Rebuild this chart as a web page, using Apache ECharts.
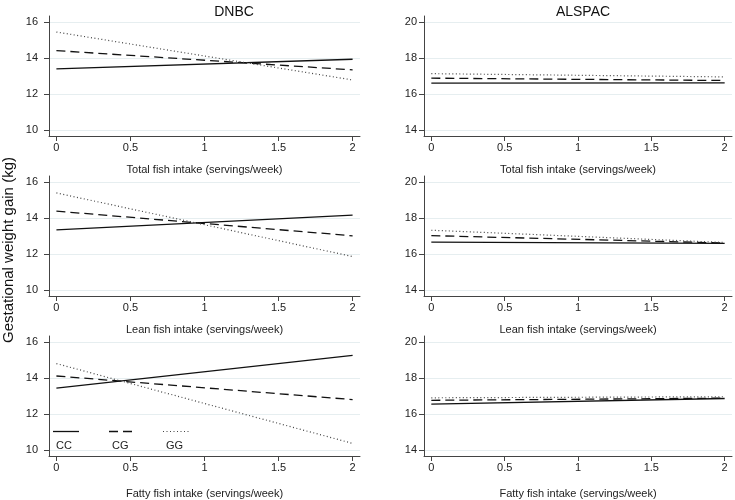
<!DOCTYPE html>
<html>
<head>
<meta charset="utf-8">
<script src="https://cdn.jsdelivr.net/npm/echarts@6/dist/echarts.min.js"></script>
<style>html,body{margin:0;padding:0;background:#fff}#c{width:735px;height:500px}</style>
</head>
<body>
<div id="c"></div>
<script>
// ---- data ----
const xValues = [0, 2];
const genotypes = ['CC', 'CG', 'GG'];
const cohorts = ['DNBC', 'ALSPAC'];
const exposures = ['Total fish intake (servings/week)', 'Lean fish intake (servings/week)', 'Fatty fish intake (servings/week)'];
const xTicks = [0, 0.5, 1, 1.5, 2];
const yTicksDNBC = [10, 12, 14, 16];
const yTicksALSPAC = [14, 16, 18, 20];
// rows: CC, CG, GG ; values at x = 0 and x = 2
const dnbcTotal = [[13.39, 13.93], [14.41, 13.34], [15.44, 12.78]];
const dnbcLean = [[13.34, 14.16], [14.38, 13.01], [15.39, 11.86]];
const dnbcFatty = [[13.44, 15.26], [14.11, 12.80], [14.80, 10.37]];
const alspacTotal = [[16.61, 16.62], [16.88, 16.75], [17.13, 16.95]];
const alspacLean = [[16.66, 16.59], [17.02, 16.61], [17.32, 16.64]];
const alspacFatty = [[16.55, 16.86], [16.76, 16.88], [16.90, 16.96]];

const panels = [
  [dnbcTotal, alspacTotal],
  [dnbcLean, alspacLean],
  [dnbcFatty, alspacFatty]
];

// ---- styling ----
const FONT = 'Liberation Sans, Arial, sans-serif';
const lineTypes = ['solid', [9, 5], [1, 2.5]];
const lineWidths = [1.3, 1.3, 1.2];
const lineColors = ['#111', '#111', '#444'];
const colLeft = [49, 424];
const colWidth = [311, 308];
const yLabelMargin = [11, 7];
const rowTop = [16, 176, 336];
const rowHeight = 120;
const nameGaps = [28, 28.5, 32];

const grids = [], xAxes = [], yAxes = [], series = [];
let idx = 0;
for (let r = 0; r < 3; r++) {
  for (let c = 0; c < 2; c++) {
    grids.push({left: colLeft[c], top: rowTop[r], width: colWidth[c], height: rowHeight, outerBoundsMode: 'none', containLabel: false});
    xAxes.push({
      gridIndex: idx, type: 'value', min: -0.05, max: 2.05,
      name: exposures[r], nameLocation: 'middle', nameGap: nameGaps[r],
      nameTextStyle: {fontFamily: FONT, fontSize: 11, color: '#222'},
      axisLine: {show: true, onZero: false, lineStyle: {color: '#444', width: 1}},
      axisTick: {show: true, length: 5, lineStyle: {color: '#444'}, customValues: xTicks},
      axisLabel: {fontFamily: FONT, fontSize: 11, color: '#222', margin: 6, customValues: xTicks,
                  formatter: v => String(v)},
      splitLine: {show: false}
    });
    const yt = c === 0 ? yTicksDNBC : yTicksALSPAC;
    yAxes.push({
      gridIndex: idx, type: 'value', min: yt[0] - 0.33, max: yt[yt.length - 1] + 0.33,
      axisLine: {show: true, onZero: false, lineStyle: {color: '#444', width: 1}},
      axisTick: {show: true, length: 5, lineStyle: {color: '#444'}, customValues: yt},
      axisLabel: {fontFamily: FONT, fontSize: 11, color: '#222', margin: yLabelMargin[c], customValues: yt,
                  formatter: v => String(v)},
      splitLine: {show: true, lineStyle: {color: '#e6eef0', width: 1}}
    });
    const d = panels[r][c];
    for (let g = 0; g < 3; g++) {
      series.push({
        type: 'line', name: genotypes[g], xAxisIndex: idx, yAxisIndex: idx,
        symbol: 'none', silent: true, animation: false,
        lineStyle: {color: lineColors[g], width: lineWidths[g], type: lineTypes[g]},
        data: xValues.map((x, i) => [x, d[g][i]])
      });
    }
    idx++;
  }
}

// legend drawn inside the bottom-left panel (graphic)
const legendX = [53, 109, 163];
const legendGraphics = [];
for (let g = 0; g < 3; g++) {
  legendGraphics.push({
    type: 'line', shape: {x1: legendX[g], y1: 431.5, x2: legendX[g] + 26, y2: 431.5},
    style: {stroke: lineColors[g], lineWidth: lineWidths[g], lineDash: g === 0 ? null : lineTypes[g]}
  });
  legendGraphics.push({
    type: 'text', x: legendX[g] + 3, y: 446,
    style: {text: genotypes[g], fontFamily: FONT, fontSize: 11, fill: '#222', verticalAlign: 'middle', align: 'left'}
  });
}

const chart = echarts.init(document.getElementById('c'), null, {renderer: 'canvas'});
chart.setOption({
  animation: false,
  backgroundColor: '#fff',
  title: [
    {text: cohorts[0], left: 229, top: 0, textAlign: 'center', textStyle: {fontFamily: FONT, fontSize: 14, fontWeight: 'normal', color: '#111'}},
    {text: cohorts[1], left: 578, top: 0, textAlign: 'center', textStyle: {fontFamily: FONT, fontSize: 14, fontWeight: 'normal', color: '#111'}}
  ],
  grid: grids,
  xAxis: xAxes,
  yAxis: yAxes,
  series: series,
  graphic: [
    {type: 'text', x: 9, y: 250, rotation: Math.PI / 2, style: {text: 'Gestational weight gain (kg)', fontFamily: FONT, fontSize: 15, fill: '#111', align: 'center', verticalAlign: 'middle'}}
  ].concat(legendGraphics)
});
</script>
</body>
</html>
